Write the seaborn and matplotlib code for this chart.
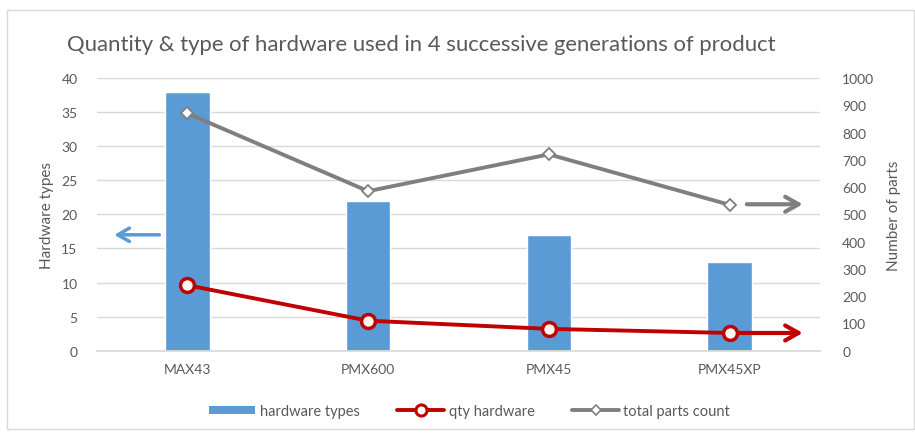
import numpy as np
import matplotlib
matplotlib.use("Agg")
import matplotlib.pyplot as plt
import seaborn as sns
from matplotlib.lines import Line2D
from matplotlib.patches import Patch, Rectangle

# chart data
products = ["MAX43", "PMX600", "PMX45", "PMX45XP"]
hardware_types = [38, 22, 17, 13]
qty_hardware = [240, 110, 80, 65]
total_parts = [870, 585, 720, 535]

BLUE = "#5B9BD5"
RED = "#C00000"
GREY = "#7F7F7F"
TXT = "#595959"
GRID = "#D9D9D9"

sns.set_theme(style="white")
plt.rcParams["font.family"] = ["Lato", "DejaVu Sans"]

fig = plt.figure(figsize=(9.15, 4.39), dpi=100)
ax = fig.add_axes([97 / 915, 1 - 351.7 / 439, 723 / 915, 272.7 / 439])
ax2 = ax.twinx()

# outer chart frame
fig.patches.append(Rectangle((7 / 915, 1 - 430 / 439), 0.999 - 7 / 915, (430 - 10.5) / 439,
                             transform=fig.transFigure, fill=False,
                             edgecolor=GRID, linewidth=1))

sns.barplot(x=products, y=hardware_types, ax=ax, color=BLUE, width=0.245,
            saturation=1, zorder=2)
ax.set_ylim(0, 40)
ax.set_yticks(range(0, 41, 5))
ax.set_xlim(-0.5, 3.5)
ax.yaxis.grid(True, color=GRID, linewidth=1, zorder=0)
ax.set_axisbelow(True)
for s in ["top", "right", "left"]:
    ax.spines[s].set_visible(False)
ax.spines["bottom"].set_color(GRID)
ax.tick_params(axis="both", length=0, colors=TXT, labelsize=10)
ax.tick_params(axis="y", pad=14)
ax.tick_params(axis="x", pad=9)
ax.set_ylabel("Hardware types", color=TXT, fontsize=11, labelpad=5)
ax.set_xlabel("")

x = np.arange(len(products))
ax2.plot(x, total_parts, color=GREY, linewidth=2.8, marker="D", markersize=6,
         markerfacecolor="white", markeredgecolor=GREY, markeredgewidth=1.3, zorder=3)
ax2.plot(x, qty_hardware, color=RED, linewidth=2.8, marker="o", markersize=10,
         markerfacecolor="#FFF8F0", markeredgecolor=RED, markeredgewidth=2.5, zorder=4)
ax2.set_ylim(0, 1000)
ax2.set_yticks(range(0, 1001, 100))
for s in ax2.spines.values():
    s.set_visible(False)
ax2.tick_params(axis="y", length=0, colors=TXT, labelsize=10, pad=16)
ax2.set_ylabel("Number of parts", color=TXT, fontsize=11, labelpad=9)

# direction arrows
ax.annotate("", xy=(-0.42, 17), xytext=(-0.14, 17),
            arrowprops=dict(arrowstyle="->,head_length=0.7,head_width=0.4",
                            color=BLUE, lw=2.5))
ax2.annotate("", xy=(3.42, 537), xytext=(3.08, 537),
             arrowprops=dict(arrowstyle="->,head_length=0.8,head_width=0.45",
                             color=GREY, lw=3))
ax2.annotate("", xy=(3.42, qty_hardware[-1]), xytext=(3.0, qty_hardware[-1]),
             arrowprops=dict(arrowstyle="->,head_length=0.8,head_width=0.45",
                             color=RED, lw=3), zorder=3)

fig.text(421 / 915, 1 - 45 / 439, "Quantity & type of hardware used in 4 successive generations of product",
         ha="center", va="center", fontsize=15.9, color=TXT)

handles = [
    Patch(facecolor=BLUE, edgecolor="none", label="hardware types"),
    Line2D([], [], color=RED, linewidth=2.8, marker="o", markersize=8,
           markerfacecolor="white", markeredgecolor=RED, markeredgewidth=2.2,
           label="qty hardware"),
    Line2D([], [], color=GREY, linewidth=2.8, marker="D", markersize=5,
           markerfacecolor="white", markeredgecolor=GREY, markeredgewidth=1.2,
           label="total parts count"),
]
fig.legend(handles=handles, loc="center", bbox_to_anchor=(0.513, 1 - 412 / 439),
           ncol=3, frameon=False, fontsize=10.5, handlelength=3.2,
           handleheight=0.5, columnspacing=2.6, handletextpad=0.3,
           labelcolor=TXT)

fig.savefig("out.png", dpi=100, facecolor="white")
